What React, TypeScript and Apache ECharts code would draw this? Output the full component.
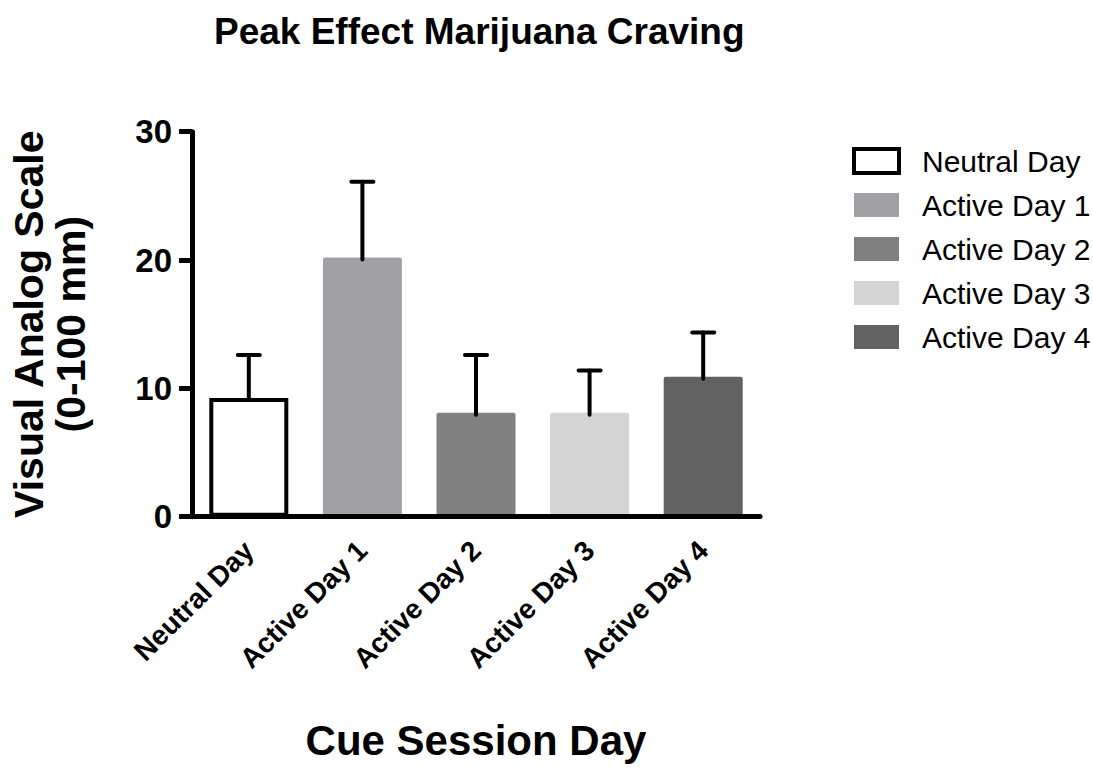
import React, { useEffect, useRef } from "react";
import * as echarts from "echarts";

const categories = ["Neutral Day", "Active Day 1", "Active Day 2", "Active Day 3", "Active Day 4"];
const means = [9.25, 20.2, 8.1, 8.1, 10.9];
const sems = [3.35, 5.9, 4.5, 3.3, 3.45];
const fills = ["#ffffff", "#a1a0a5", "#808080", "#d4d4d4", "#626262"];
const yTicks = [0, 10, 20, 30];

const FONT = "'Liberation Sans', Arial, Helvetica, sans-serif";

export default function App() {
  const ref = useRef<HTMLDivElement>(null);
  useEffect(() => {
    if (!ref.current) return;
    const chart = echarts.init(ref.current, undefined, { renderer: "svg" });

    const barSeries = categories.map((name, i) => ({
      name,
      type: "bar",
      barWidth: 79,
      barGap: "-100%",
      z: 2,
      data: categories.map((_, j) => (j === i ? means[i] : "-")),
      itemStyle:
        i === 0
          ? { color: "#ffffff", borderColor: "#000000", borderWidth: 4 }
          : { color: fills[i], borderRadius: 2 },
    }));

    const errData = categories.map((_, i) => [i, means[i], means[i] + sems[i]]);

    const option = {
      animation: false,
      backgroundColor: "#ffffff",
      textStyle: { fontFamily: FONT },
      title: {
        text: "Peak Effect Marijuana Craving",
        left: 209,
        top: 8,
        textStyle: { fontFamily: FONT, fontWeight: "bold", fontSize: 37, color: "#000" },
      },
      legend: {
        orient: "vertical",
        left: 847,
        top: 141,
        itemWidth: 45,
        itemHeight: 24,
        itemGap: 14,
        icon: "rect",
        data: categories.map((name, i) => ({
          name,
          itemStyle:
            i === 0
              ? { color: "#ffffff", borderColor: "#000000", borderWidth: 4 }
              : { color: fills[i], borderWidth: 0 },
        })),
        textStyle: {
          fontFamily: FONT,
          fontSize: 30,
          color: "#000",
          padding: [0, 0, 0, 18],
        },
      },
      grid: { left: 185, right: 333, top: 131.7, bottom: 251.3 },
      xAxis: {
        type: "category",
        data: categories,
        z: 5,
        axisLine: { lineStyle: { color: "#000", width: 5 } },
        axisTick: { alignWithLabel: true, length: 12, lineStyle: { color: "#000", width: 5 } },
        axisLabel: {
          rotate: 45,
          margin: 29,
          interval: 0,
          fontFamily: FONT,
          fontWeight: "bold",
          fontSize: 28,
          color: "#000",
        },
        name: "Cue Session Day",
        nameLocation: "middle",
        nameGap: 203,
        nameTextStyle: { fontFamily: FONT, fontWeight: "bold", fontSize: 42, color: "#000" },
      },
      yAxis: {
        type: "value",
        min: yTicks[0],
        max: yTicks[yTicks.length - 1],
        interval: 10,
        z: 5,
        splitLine: { show: false },
        axisLine: { show: true, lineStyle: { color: "#000", width: 5 } },
        axisTick: { show: true, length: 13, lineStyle: { color: "#000", width: 5 } },
        axisLabel: {
          margin: 20,
          fontFamily: FONT,
          fontWeight: "bold",
          fontSize: 33,
          color: "#000",
        },
        name: "Visual Analog Scale\n(0-100 mm)",
        nameLocation: "middle",
        nameRotate: 90,
        nameGap: 100,
        nameTextStyle: {
          fontFamily: FONT,
          fontWeight: "bold",
          fontSize: 41,
          lineHeight: 42,
          color: "#000",
          align: "center",
        },
      },
      series: [
        ...barSeries,
        {
          type: "custom",
          name: "err",
          z: 3,
          data: errData,
          renderItem: (params: any, api: any) => {
            const x = api.value(0);
            const m = api.value(1);
            const hi = api.value(2);
            const p0 = api.coord([x, m]);
            const p1 = api.coord([x, hi]);
            return {
              type: "group",
              children: [
                {
                  type: "line",
                  shape: { x1: p0[0], y1: p0[1] + 2, x2: p1[0], y2: p1[1] },
                  style: { stroke: "#000", lineWidth: 4, lineCap: "round" },
                },
                {
                  type: "line",
                  shape: { x1: p1[0] - 11, y1: p1[1], x2: p1[0] + 11, y2: p1[1] },
                  style: { stroke: "#000", lineWidth: 4, lineCap: "round" },
                },
              ],
            };
          },
        },
      ],
    };
    chart.setOption(option as any);
    return () => chart.dispose();
  }, []);
  return (
    <div
      ref={ref}
      style={{ position: "absolute", left: 0, top: 0, width: 1093, height: 768 }}
    />
  );
}
